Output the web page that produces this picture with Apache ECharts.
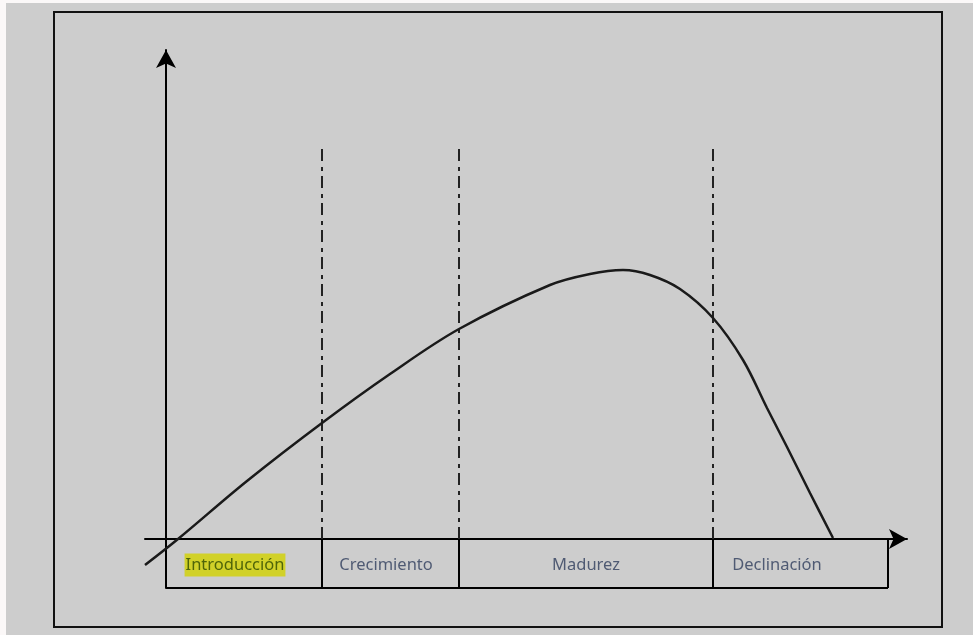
<!DOCTYPE html>
<html>
<head>
<meta charset="utf-8">
<script src="https://cdn.jsdelivr.net/npm/echarts@6/dist/echarts.min.js"></script>
<style>
  html, body { margin: 0; padding: 0; background: #fbf8f8; }
  #chart { width: 973px; height: 635px; }
</style>
</head>
<body>
<div id="chart"></div>
<script>
// etapas del ciclo de vida
const stages = ['Introducción', 'Crecimiento', 'Madurez', 'Declinación']
const stageEdges = [0, 156, 293, 547, 722]
const stageLabelX = [69, 220, 420, 611]
const stageLabelY = -26
const guideTop = 393
const tableFloor = -49

// curva de ventas
const curveX = [-21, 12, 81, 156, 224, 293, 384, 424, 457, 484, 514, 547, 577, 601, 621, 644, 667]
const curveY = [-26, 0, 58, 116, 165, 210, 254, 265, 269, 264, 250, 221, 179, 131, 92, 46, 1]

const chart = echarts.init(document.getElementById('chart'))

const guides = stageEdges.slice(1, 4).map(x => [{ coord: [x, 0] }, { coord: [x, guideTop] }])
const last = stageEdges[stageEdges.length - 1]
const tableLines = stageEdges.slice(1, 4).map(x => [{ coord: [x, tableFloor] }, { coord: [x, 0] }])
tableLines.push([{ coord: [0, tableFloor] }, { coord: [last, tableFloor] }])
tableLines.push([{ coord: [last, tableFloor] }, { coord: [last, 0] }])

const labelStyle = {
  show: true,
  position: 'inside',
  formatter: '{b}',
  fontFamily: 'Noto Sans',
  fontSize: 16.5,
  color: '#2f3d5c'
}

const option = {
  animation: false,
  backgroundColor: '#fbf8f8',
  graphic: [
    { type: 'rect', z: -10, shape: { x: 6, y: 3, width: 967, height: 632 }, style: { fill: '#cdcdcd' } },
    { type: 'rect', z: -5, shape: { x: 54, y: 12, width: 888, height: 615 }, style: { fill: 'none', stroke: '#111', lineWidth: 2 } }
  ],
  grid: { left: 145, right: 66, top: 50, bottom: 47 },
  xAxis: {
    type: 'value',
    min: -21,
    max: 741,
    axisLine: { onZero: true, lineStyle: { color: '#000', width: 2 }, symbol: ['none', 'arrow'], symbolSize: [15, 18] },
    axisTick: { show: false },
    axisLabel: { show: false },
    splitLine: { show: false }
  },
  yAxis: {
    type: 'value',
    min: tableFloor,
    max: 489,
    axisLine: { show: true, onZero: true, lineStyle: { color: '#000', width: 2 }, symbol: ['none', 'arrow'], symbolSize: [15, 18] },
    axisTick: { show: false },
    axisLabel: { show: false },
    splitLine: { show: false }
  },
  series: [
    {
      type: 'line',
      data: curveX.map((x, i) => [x, curveY[i]]),
      smooth: 0.35,
      showSymbol: false,
      lineStyle: { color: '#1a1a1a', width: 2.5 },
      z: 5
    },
    {
      type: 'line',
      data: [],
      markLine: {
        silent: true,
        symbol: 'none',
        label: { show: false },
        lineStyle: { color: '#222', width: 2, type: [12, 5, 4, 6] },
        data: guides
      }
    },
    {
      type: 'line',
      data: [],
      markLine: {
        silent: true,
        symbol: 'none',
        label: { show: false },
        lineStyle: { color: '#000', width: 2, type: 'solid' },
        data: tableLines
      }
    },
    {
      type: 'scatter',
      symbolSize: 0,
      label: labelStyle,
      data: stages.map((s, i) => {
        const item = { name: s, value: [stageLabelX[i], stageLabelY] }
        if (i === 0) {
          item.label = { backgroundColor: '#d2d200', color: '#2e4a00', padding: [3, 1, 3, 1] }
        }
        return item
      })
    }
  ]
}

chart.setOption(option)
</script>
</body>
</html>
